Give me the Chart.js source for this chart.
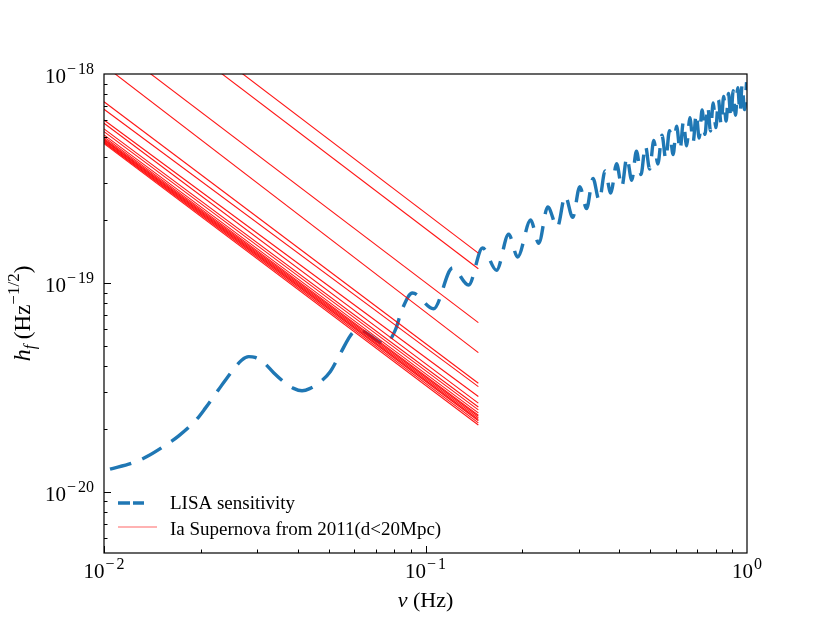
<!DOCTYPE html>
<html>
<head>
<meta charset="utf-8">
<script src="https://cdn.jsdelivr.net/npm/chart.js@4.4.0/dist/chart.umd.min.js"></script>
<style>
  html, body { margin: 0; padding: 0; background: #fff; }
  canvas { display: block; }
</style>
</head>
<body>
<canvas id="strainChart" width="830" height="623"></canvas>
<script>
// LISA sensitivity curve (Hz, Hz^-1/2)
const lisaFreq = [
  0.01044, 0.01234, 0.0136, 0.01568, 0.01704, 0.01944, 0.02064, 0.0227, 0.0241, 0.02685,
  0.0282, 0.0295, 0.0314, 0.0337, 0.0362, 0.0389, 0.0413, 0.0438, 0.0465, 0.0506,
  0.0544, 0.0591, 0.0618, 0.0751, 0.0806, 0.0846, 0.0911, 0.1059, 0.1214, 0.1361,
  0.1505, 0.1664, 0.1814, 0.1935, 0.2123, 0.225, 0.240, 0.257, 0.272, 0.287,
  0.302, 0.317, 0.332, 0.347, 0.362, 0.377, 0.393, 0.408, 0.423, 0.438,
  0.453, 0.468, 0.483, 0.498, 0.513, 0.528, 0.544, 0.559, 0.574, 0.589,
  0.604, 0.619, 0.634, 0.649, 0.664, 0.680, 0.695, 0.710, 0.725, 0.740,
  0.755, 0.770, 0.785, 0.800, 0.815, 0.831, 0.846, 0.861, 0.876, 0.891,
  0.906, 0.921, 0.936, 0.951, 0.966, 0.982, 0.997
];
const lisaStrain = [
  1.285e-20, 1.38e-20, 1.476e-20, 1.69e-20, 1.85e-20, 2.23e-20, 2.51e-20, 3.08e-20, 3.50e-20, 4.28e-20,
  4.44e-20, 4.40e-20, 4.16e-20, 3.72e-20, 3.37e-20, 3.13e-20, 3.05e-20, 3.13e-20, 3.31e-20, 3.77e-20,
  4.61e-20, 5.74e-20, 5.96e-20, 5.11e-20, 5.96e-20, 7.48e-20, 8.95e-20, 7.52e-20, 1.18e-19, 9.77e-20,
  1.47e-19, 1.15e-19, 1.71e-19, 1.33e-19, 2.0e-19, 1.55e-19, 2.31e-19, 1.85e-19, 2.61e-19, 2.06e-19,
  2.89e-19, 2.27e-19, 3.16e-19, 2.48e-19, 3.44e-19, 2.69e-19, 3.72e-19, 2.89e-19, 3.99e-19, 3.10e-19,
  4.27e-19, 3.30e-19, 4.54e-19, 3.51e-19, 4.81e-19, 3.71e-19, 5.09e-19, 3.92e-19, 5.36e-19, 4.12e-19,
  5.63e-19, 4.32e-19, 5.90e-19, 4.53e-19, 6.17e-19, 4.73e-19, 6.45e-19, 4.94e-19, 6.72e-19, 5.14e-19,
  6.99e-19, 5.34e-19, 7.26e-19, 5.54e-19, 7.52e-19, 5.75e-19, 7.80e-19, 5.95e-19, 8.06e-19, 6.15e-19,
  8.33e-19, 6.35e-19, 8.60e-19, 6.55e-19, 8.86e-19, 6.75e-19, 9.14e-19
];

// Ia supernovae: strain at the two ends of each line
const snFreqRange = [0.01, 0.146];
const snStartStrain = [
  3.2e-18, 2.69e-18, 1.48e-18, 1.10e-18, 7.37e-19, 6.78e-19, 6.02e-19, 5.81e-19,
  5.46e-19, 5.30e-19, 5.11e-19, 5.00e-19, 4.92e-19, 4.86e-19, 4.81e-19, 4.75e-19, 4.70e-19, 4.64e-19
];
const snEndStrain = [
  1.39e-19, 1.17e-19, 6.46e-20, 4.64e-20, 3.31e-20, 3.19e-20, 2.86e-20, 2.66e-20,
  2.55e-20, 2.47e-20, 2.39e-20, 2.33e-20, 2.30e-20, 2.26e-20, 2.22e-20, 2.19e-20, 2.14e-20, 2.09e-20
];

const xMajorTicks = [0.01, 0.1, 1];
const xTickExps = ["\u22122", "\u22121", "0"];
const yMajorTicks = [1e-20, 1e-19, 1e-18];
const yTickExps = ["\u221220", "\u221219", "\u221218"];

const LISA_BLUE = "#1f77b4";
const SN_RED = "rgba(255, 0, 0, 0.92)";
const SERIF = "'Liberation Serif', 'DejaVu Serif', serif";

const datasets = [
  {
    label: "LISA sensitivity",
    data: lisaFreq.map((f, i) => ({ x: f, y: lisaStrain[i] })),
    borderColor: LISA_BLUE,
    borderWidth: 3.4,
    borderDash: [22, 12],
    cubicInterpolationMode: "monotone",
    pointRadius: 0,
    fill: false,
    clip: 0,
    order: 1,
  },
];

snStartStrain.forEach((s, i) => {
  datasets.push({
    label: i === 0 ? "Ia Supernova from 2011(d<20Mpc)" : "",
    data: [
      { x: snFreqRange[0], y: s },
      { x: snFreqRange[1], y: snEndStrain[i] },
    ],
    borderColor: SN_RED,
    borderWidth: 1.1,
    pointRadius: 0,
    fill: false,
    clip: 0,
    order: 0,
  });
});

// base "10" plus a raised exponent
function powerLabel(ctx, exp, x, y, align) {
  ctx.font = "21px " + SERIF;
  const wb = ctx.measureText("10").width;
  ctx.font = "16px " + SERIF;
  const we = ctx.measureText(exp).width + (exp.length > 1 ? 3 : 1);
  let left = x;
  if (align === "right") left = x - wb - we;
  if (align === "center") left = x - (wb + we) / 2;
  ctx.textAlign = "left";
  ctx.textBaseline = "alphabetic";
  ctx.font = "21px " + SERIF;
  ctx.fillText("10", left, y);
  ctx.font = "16px " + SERIF;
  if (exp.length > 1) {
    const wm = ctx.measureText(exp[0]).width;
    ctx.fillText(exp[0], left + wb + 1, y - 9);
    ctx.fillText(exp.slice(1), left + wb + wm + 3, y - 9);
  } else {
    ctx.fillText(exp, left + wb + 1, y - 9);
  }
}

const axesPlugin = {
  id: "mplAxes",
  afterDraw(chart) {
    const ctx = chart.ctx;
    const area = chart.chartArea;
    const xs = chart.scales.x;
    const ys = chart.scales.y;
    ctx.save();
    ctx.fillStyle = "#000";
    ctx.strokeStyle = "#000";

    // inward ticks
    ctx.lineWidth = 1;
    ctx.beginPath();
    for (let d = -2; d < 0; d++) {
      for (let k = 1; k <= 9; k++) {
        const v = k * Math.pow(10, d);
        const px = Math.round(xs.getPixelForValue(v)) + 0.5;
        const len = k === 1 ? 7 : 3.5;
        ctx.moveTo(px, area.bottom);
        ctx.lineTo(px, area.bottom - len);
      }
    }
    for (let d = -21; d < -18; d++) {
      for (let k = 1; k <= 9; k++) {
        const v = k * Math.pow(10, d);
        if (v < ys.min || v > ys.max) continue;
        const py = Math.round(ys.getPixelForValue(v)) + 0.5;
        const len = k === 1 ? 7 : 3.5;
        ctx.moveTo(area.left, py);
        ctx.lineTo(area.left + len, py);
      }
    }
    ctx.stroke();

    // frame
    ctx.lineWidth = 1.2;
    ctx.strokeRect(area.left, area.top, area.right - area.left, area.bottom - area.top);

    // tick labels
    xMajorTicks.forEach((v, i) => {
      powerLabel(ctx, xTickExps[i], xs.getPixelForValue(v), area.bottom + 25, "center");
    });
    yMajorTicks.forEach((v, i) => {
      powerLabel(ctx, yTickExps[i], area.left - 10, ys.getPixelForValue(v) + 9, "right");
    });

    // x title
    ctx.font = "italic 22px " + SERIF;
    const wNu = ctx.measureText("\u03bd").width;
    ctx.font = "22px " + SERIF;
    const wHz = ctx.measureText(" (Hz)").width;
    const cx = (area.left + area.right) / 2;
    let tx = cx - (wNu + wHz) / 2;
    ctx.textAlign = "left";
    ctx.font = "italic 22px " + SERIF;
    ctx.fillText("\u03bd", tx, 607);
    ctx.font = "22px " + SERIF;
    ctx.fillText(" (Hz)", tx + wNu, 607);

    // y title, rotated
    const parts = [
      { t: "h", f: "italic 24px ", dy: 0 },
      { t: "f", f: "italic 16px ", dy: 5 },
      { t: " (Hz", f: "23px ", dy: 0 },
      { t: "\u22121/2", f: "17px ", dy: -11 },
      { t: ")", f: "23px ", dy: 0 },
    ];
    let total = 0;
    parts.forEach((p) => {
      ctx.font = p.f + SERIF;
      p.w = ctx.measureText(p.t).width;
      total += p.w;
    });
    ctx.save();
    ctx.translate(30, (area.top + area.bottom) / 2);
    ctx.rotate(-Math.PI / 2);
    let pos = -total / 2;
    parts.forEach((p) => {
      ctx.font = p.f + SERIF;
      ctx.fillText(p.t, pos, p.dy);
      pos += p.w;
    });
    ctx.restore();

    // legend
    ctx.save();
    ctx.strokeStyle = LISA_BLUE;
    ctx.lineWidth = 3.4;
    ctx.setLineDash([12, 3]);
    ctx.beginPath();
    ctx.moveTo(118, 503);
    ctx.lineTo(144, 503);
    ctx.stroke();
    ctx.setLineDash([]);
    ctx.strokeStyle = "rgba(255, 0, 0, 0.6)";
    ctx.lineWidth = 1.2;
    ctx.beginPath();
    ctx.moveTo(118, 527);
    ctx.lineTo(157, 527);
    ctx.stroke();
    ctx.restore();
    ctx.font = "19px " + SERIF;
    ctx.textAlign = "left";
    ctx.fillText(datasets[0].label, 170, 509);
    ctx.fillText(datasets[1].label, 170, 535);

    ctx.restore();
  },
};

const ctx = document.getElementById("strainChart").getContext("2d");
new Chart(ctx, {
  type: "line",
  data: { datasets: datasets },
  options: {
    responsive: false,
    animation: false,
    events: [],
    layout: {
      padding: { left: 104, right: 83, top: 74, bottom: 70 },
    },
    plugins: {
      legend: { display: false },
      tooltip: { enabled: false },
    },
    scales: {
      x: { type: "logarithmic", min: 0.01, max: 1, display: false },
      y: { type: "logarithmic", min: 5.1e-21, max: 1e-18, display: false },
    },
  },
  plugins: [axesPlugin],
});
</script>
</body>
</html>
